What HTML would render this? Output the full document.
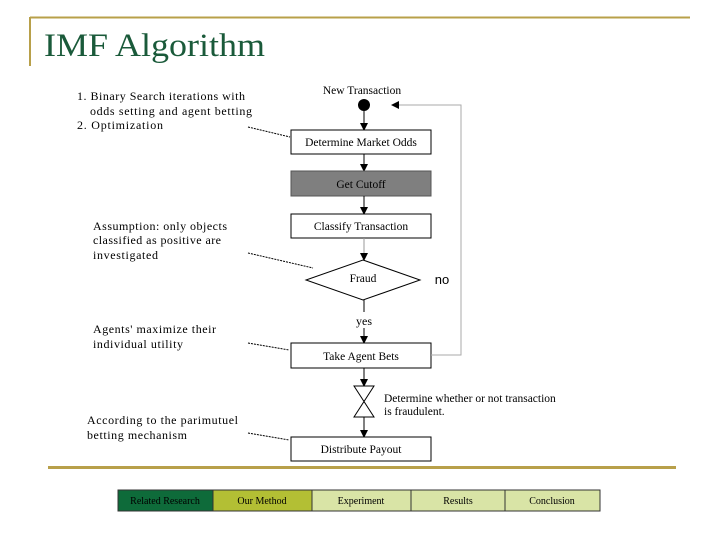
<!DOCTYPE html>
<html><head><meta charset="utf-8"><style>
body{margin:0;background:#fff;width:720px;height:540px;overflow:hidden}
svg{display:block}
</style></head><body>
<svg width="720" height="540" xmlns="http://www.w3.org/2000/svg" font-family="Liberation Serif, serif">
<defs><marker id="a" markerWidth="8" markerHeight="8" refX="7" refY="4" orient="auto" markerUnits="userSpaceOnUse"><path d="M0,0 L8,4 L0,8 z" fill="#000"/></marker></defs>
<line x1="30" y1="17.5" x2="690" y2="17.5" stroke="#b8a04a" stroke-width="2"/>
<line x1="30" y1="17" x2="30" y2="66" stroke="#b8a04a" stroke-width="2"/>
<text x="44" y="56" font-size="33" fill="#1a5a3a" textLength="221" lengthAdjust="spacingAndGlyphs">IMF Algorithm</text>
<line x1="48" y1="467.5" x2="676" y2="467.5" stroke="#b8a04a" stroke-width="3"/>

<g font-size="12" fill="#000" lengthAdjust="spacingAndGlyphs">
<text x="77" y="100" textLength="168">1. Binary Search iterations with</text>
<text x="90" y="115" textLength="162">odds setting and agent betting</text>
<text x="77" y="129" textLength="86">2. Optimization</text>
<text x="93" y="230" textLength="134">Assumption: only objects</text>
<text x="93" y="244" textLength="128">classified as positive are</text>
<text x="93" y="259" textLength="65">investigated</text>
<text x="93" y="333" textLength="123">Agents' maximize their</text>
<text x="93" y="348" textLength="90">individual utility</text>
<text x="87" y="424" textLength="151">According to the parimutuel</text>
<text x="87" y="439" textLength="100">betting mechanism</text>
</g>
<g stroke="#000" stroke-width="1" stroke-dasharray="2,1">
<line x1="248" y1="127" x2="290" y2="137"/>
<line x1="248" y1="253" x2="313" y2="268"/>
<line x1="248" y1="343" x2="289" y2="350"/>
<line x1="248" y1="433" x2="289" y2="440"/>
</g>

<g font-size="11.5" text-anchor="middle">
<text x="362" y="94">New Transaction</text>
<circle cx="364" cy="105" r="6"/>
<line x1="364" y1="111" x2="364" y2="130" stroke="#000" marker-end="url(#a)"/>
<rect x="291" y="130" width="140" height="24" fill="#fff" stroke="#000"/>
<text x="361" y="146">Determine Market Odds</text>
<line x1="364" y1="154" x2="364" y2="171" stroke="#000" marker-end="url(#a)"/>
<rect x="291" y="171" width="140" height="25" fill="#7f7f7f" stroke="#555"/>
<text x="361" y="188">Get Cutoff</text>
<line x1="364" y1="196" x2="364" y2="214" stroke="#000" marker-end="url(#a)"/>
<rect x="291" y="214" width="140" height="24" fill="#fff" stroke="#000"/>
<text x="361" y="230">Classify Transaction</text>
<line x1="364" y1="238" x2="364" y2="260" stroke="#999" marker-end="url(#a)"/>
<polygon points="363,260 420,280 363,300 306,280" fill="#fff" stroke="#000"/>
<text x="363" y="282">Fraud</text>
<text x="442" y="284" font-size="13" font-family="Liberation Sans, sans-serif">no</text>
<line x1="364" y1="300" x2="364" y2="312" stroke="#000"/>
<text x="364" y="325" font-size="12">yes</text>
<line x1="364" y1="328" x2="364" y2="343" stroke="#000" marker-end="url(#a)"/>
<rect x="291" y="343" width="140" height="25" fill="#fff" stroke="#000"/>
<text x="361" y="360">Take Agent Bets</text>
<polyline points="431,355 461,355 461,105 392,105" fill="none" stroke="#aaa" marker-end="url(#a)"/>
<line x1="364" y1="368" x2="364" y2="386" stroke="#000" marker-end="url(#a)"/>
<polygon points="354,386 374,386 354,417 374,417" fill="#fff" stroke="#000"/>
<line x1="364" y1="417" x2="364" y2="437" stroke="#000" marker-end="url(#a)"/>
<rect x="291" y="437" width="140" height="24" fill="#fff" stroke="#000"/>
<text x="361" y="453">Distribute Payout</text>
</g>
<g font-size="11.5"><text x="384" y="402">Determine whether or not transaction</text><text x="384" y="415">is fraudulent.</text></g>

<g font-size="10" text-anchor="middle" stroke="#333">
<rect x="118" y="490" width="95" height="21" fill="#0e6b3a"/>
<rect x="213" y="490" width="99" height="21" fill="#b3bf34"/>
<rect x="312" y="490" width="99" height="21" fill="#d9e4a6"/>
<rect x="411" y="490" width="94" height="21" fill="#d9e4a6"/>
<rect x="505" y="490" width="95" height="21" fill="#d9e4a6"/>
</g>
<g font-size="10" text-anchor="middle" fill="#000">
<text x="165" y="504">Related Research</text>
<text x="262" y="504">Our Method</text>
<text x="361" y="504">Experiment</text>
<text x="458" y="504">Results</text>
<text x="552" y="504">Conclusion</text>
</g>
</svg>
</body></html>
